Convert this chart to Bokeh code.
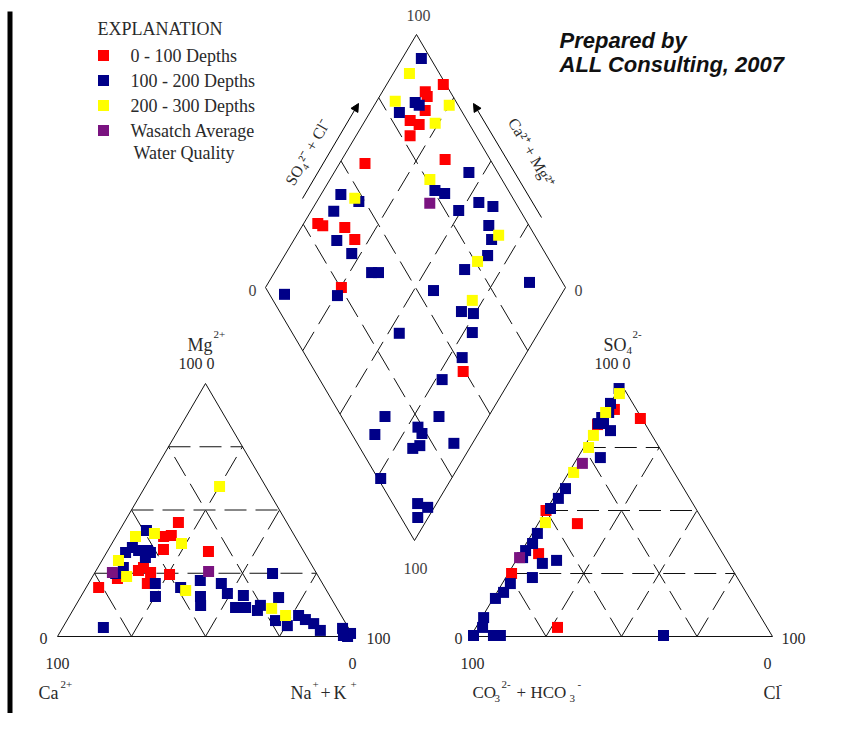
import numpy as np
from bokeh.plotting import figure
from bokeh.models import Range1d, Arrow, NormalHead
from bokeh.core.properties import value
from bokeh.embed import file_html
from bokeh.resources import INLINE

# ---------------- data (percent values) ----------------
group_labels = ["0 - 100 Depths", "100 - 200 Depths", "200 - 300 Depths", "Wasatch Average"]
group_colors = ["#FF0000", "#000088", "#FFFF00", "#7A1380"]

# Cation triangle: Mg2+ (%) and Na+ + K+ (%)  (Ca2+ is the remainder)
cat_mg_0_100 = [45.1, 39.5, 39.9, 34.4, 33.6, 26.1, 27.3, 25.3, 20.9, 24.5, 19.4, 22.9]
cat_nak_0_100 = [18.3, 16.1, 18.5, 18.6, 34.2, 14.3, 15.4, 18.8, 19.9, 25.6, 4.2, 8.8]
cat_mg_100_200 = [41.9, 35.2, 34.0, 34.0, 33.2, 31.2, 33.2, 27.3, 24.9, 20.9, 15.8, 19.4, 22.1, 15.8,
                  12.3, 3.6, 20.9, 17.0, 24.9, 16.2, 11.5, 11.5, 10.3, 12.3, 15.4, 6.3, 4.3, 8.3,
                  6.7, 5.1, 2.4, 3.2, 1.2, 0.0, 0.4]
cat_nak_100_200 = [9.1, 7.7, 10.4, 13.4, 14.8, 14.1, 6.4, 8.6, 7.2, 22.6, 25.2, 31.9, 37.2, 40.4,
                   42.2, 13.7, 44.9, 48.9, 60.2, 54.7, 54.4, 57.8, 62.4, 62.4, 67.0, 70.5, 75.5, 77.3,
                   80.4, 84.0, 87.6, 94.7, 98.4, 98.0, 96.4]
cat_mg_200_300 = [59.3, 39.5, 40.7, 36.8, 30.0, 23.7, 18.2, 11.1, 8.3]
cat_nak_200_300 = [25.1, 6.6, 12.4, 23.5, 5.6, 11.5, 34.2, 66.8, 72.9]
cat_mg_wasatch = [25.3, 25.7]
cat_nak_wasatch = [5.9, 38.2]

# Anion triangle: SO4 2- (%) and Cl- (%)  (CO3 2- + HCO3- is the remainder)
an_so4_0_100 = [86.5, 90.1, 84.1, 50.0, 44.8, 32.9, 25.0, 3.6]
an_cl_0_100 = [13.0, 2.6, 0.0, 0.0, 13.0, 6.1, 1.1, 27.0]
an_so4_100_200 = [98.4, 92.5, 88.9, 86.9, 84.5, 81.7, 84.5, 71.0, 58.7, 54.8, 50.8, 40.9, 36.9, 34.1,
                  31.3, 29.0, 30.2, 23.4, 21.0, 17.5, 15.1, 7.5, 3.6, 0.4, 0.4, 0.4, 0.4]
an_cl_100_200 = [0.0, 0.1, 1.3, 0.0, 1.8, 5.5, 0.0, 7.5, 2.1, 1.7, 1.1, 1.7, 2.1, 1.2,
                 1.6, 9.3, 13.4, 8.8, 2.7, 2.2, 0.7, 0.6, 2.2, 0.8, 7.4, 9.7, 63.7]
an_so4_200_300 = [96.4, 88.9, 79.8, 75.0, 65.1, 45.2]
an_cl_200_300 = [1.1, 0.3, 0.8, 1.6, 1.6, 2.2]
an_so4_wasatch = [68.7, 31.3]
an_cl_wasatch = [2.7, 0.6]

# Diamond: Ca2+ + Mg2+ (%) and SO4 2- + Cl- (%)
dia_camg_0_100 = [81.1, 85.7, 84.1, 82.0, 85.0, 81.2, 82.0, 65.6, 91.5, 95.3, 93.2, 85.5, 79.8, 74.7, 17.4]
dia_so4cl_0_100 = [99.1, 91.7, 91.4, 88.0, 81.0, 83.2, 78.0, 85.0, 57.5, 30.0, 31.2, 38.2, 39.2, 25.3, 49.4]
dia_camg_100_200 = [93.6, 86.9, 85.0, 90.2, 55.1, 62.8, 59.0, 45.8, 40.3, 50.9, 93.4, 86.0, 92.4, 85.6,
                    78.0, 37.9, 34.2, 32.3, 37.2, 67.6, 65.3, 13.0, 74.4, 92.3, 43.4, 29.9, 25.5, 22.1,
                    20.5, 22.8, 46.3, 34.5, 34.3, 16.5, 21.4, 18.8, 17.1, 18.9, 6.2, 23.6, 6.3, 2.2, 3.5]
dia_so4cl_100_200 = [96.9, 86.2, 87.0, 79.0, 90.4, 75.5, 78.2, 87.8, 91.7, 79.5, 43.4, 48.0, 37.7, 33.0,
                     35.4, 86.6, 84.8, 80.3, 69.9, 38.3, 40.6, 89.0, 22.4, 5.0, 55.4, 60.6, 64.2, 60.1,
                     51.8, 40.8, 35.6, 14.5, 7.6, 32.5, 23.4, 23.5, 20.4, 17.5, 32.2, 0.9, 8.3, 10.9, 5.6]
dia_camg_200_300 = [94.6, 93.8, 75.0, 76.1, 66.7, 88.0, 32.7, 34.5, 28.5]
dia_so4cl_200_300 = [90.0, 79.8, 97.0, 88.8, 76.0, 47.3, 88.0, 75.8, 66.4]
dia_camg_wasatch = [62.0]
dia_so4cl_wasatch = [71.3]

grid_levels = [25, 50, 75]

# ---------------- layout / geometry ----------------
W, H = 825, 713
IMG_H = 729.0


def pt(xr, yr):
    return np.array([float(xr), IMG_H - yr])


C_BL, C_BR, C_AP = pt(57, 636), pt(353, 636), pt(205, 383)
A_BL, A_BR, A_AP = pt(470, 636), pt(772, 636), pt(621, 384)
D_B, D_L, D_R = pt(414, 540), pt(265, 287), pt(565, 287)
D_T = D_L + D_R - D_B


def tern(tri, fr, fa):
    BL, BR, AP = tri
    fr = np.asarray(fr, dtype=float) / 100.0
    fa = np.asarray(fa, dtype=float) / 100.0
    x = BL[0] + fr * (BR[0] - BL[0]) + fa * (AP[0] - BL[0])
    y = BL[1] + fr * (BR[1] - BL[1]) + fa * (AP[1] - BL[1])
    return x, y


def dia(camg, so4cl):
    a = np.asarray(camg, dtype=float) / 100.0
    b = np.asarray(so4cl, dtype=float) / 100.0
    x = D_B[0] + a * (D_L[0] - D_B[0]) + b * (D_R[0] - D_B[0])
    y = D_B[1] + a * (D_L[1] - D_B[1]) + b * (D_R[1] - D_B[1])
    return x, y


CAT = (C_BL, C_BR, C_AP)
AN = (A_BL, A_BR, A_AP)

p = figure(width=W, height=H, output_backend="svg", toolbar_location=None,
           x_range=Range1d(0, W), y_range=Range1d(IMG_H - H, IMG_H),
           min_border=0)
p.axis.visible = False
p.grid.visible = False
p.outline_line_color = None
p.background_fill_color = "white"

LINE = "#111111"
DASH = "22 9"

# left black bar
p.quad(left=[7], right=[12], bottom=[0], top=[IMG_H - 11], fill_color="black", line_color=None)

# ---- triangle outlines and grids ----
for tri in (CAT, AN):
    BL, BR, AP = tri
    p.line([BL[0], BR[0], AP[0], BL[0]], [BL[1], BR[1], AP[1], BL[1]], line_color=LINE, line_width=1)
    xs, ys = [], []
    for f in grid_levels:
        x0, y0 = tern(tri, 0, f)
        x1, y1 = tern(tri, 100 - f, f)
        xs.append([float(x0), float(x1)]); ys.append([float(y0), float(y1)])
        x0, y0 = tern(tri, f, 0)
        x1, y1 = tern(tri, f, 100 - f)
        xs.append([float(x0), float(x1)]); ys.append([float(y0), float(y1)])
        x0, y0 = tern(tri, 100 - f, 0)
        x1, y1 = tern(tri, 0, 100 - f)
        xs.append([float(x0), float(x1)]); ys.append([float(y0), float(y1)])
    p.multi_line(xs, ys, line_color=LINE, line_width=1, line_dash=DASH)

# ---- diamond outline and grid ----
p.line([D_B[0], D_L[0], D_T[0], D_R[0], D_B[0]], [D_B[1], D_L[1], D_T[1], D_R[1], D_B[1]],
       line_color=LINE, line_width=1)
xs, ys = [], []
for f in grid_levels:
    x0, y0 = dia(f, 0)
    x1, y1 = dia(f, 100)
    xs.append([float(x0), float(x1)]); ys.append([float(y0), float(y1)])
    x0, y0 = dia(0, f)
    x1, y1 = dia(100, f)
    xs.append([float(x0), float(x1)]); ys.append([float(y0), float(y1)])
p.multi_line(xs, ys, line_color=LINE, line_width=1, line_dash=DASH)

# ---- data points ----
MS = 11
cat_sets = [(cat_mg_0_100, cat_nak_0_100), (cat_mg_100_200, cat_nak_100_200),
            (cat_mg_200_300, cat_nak_200_300), (cat_mg_wasatch, cat_nak_wasatch)]
an_sets = [(an_so4_0_100, an_cl_0_100), (an_so4_100_200, an_cl_100_200),
           (an_so4_200_300, an_cl_200_300), (an_so4_wasatch, an_cl_wasatch)]
dia_sets = [(dia_camg_0_100, dia_so4cl_0_100), (dia_camg_100_200, dia_so4cl_100_200),
            (dia_camg_200_300, dia_so4cl_200_300), (dia_camg_wasatch, dia_so4cl_wasatch)]

for (mg, nak), col in zip(cat_sets, group_colors):
    x, y = tern(CAT, nak, mg)
    p.scatter(x, y, marker="square", size=MS, fill_color=col, line_color=None)
for (so4, cl), col in zip(an_sets, group_colors):
    x, y = tern(AN, cl, so4)
    p.scatter(x, y, marker="square", size=MS, fill_color=col, line_color=None)
for (camg, so4cl), col in zip(dia_sets, group_colors):
    x, y = dia(camg, so4cl)
    p.scatter(x, y, marker="square", size=MS, fill_color=col, line_color=None)

# ---- texts ----
TXT = "#2a2a2a"
SERIF = "Liberation Serif"


def txt(xr, yr, s, size=15, align="left", baseline="middle", font=SERIF, style="normal",
        color=TXT, angle=0.0):
    p.text(x=[xr], y=[IMG_H - yr], text=[s], text_font=value(font),
           text_font_size=f"{size}px", text_align=align, text_baseline=baseline,
           text_color=color, text_font_style=style, angle=angle)


# legend
txt(97, 28, "EXPLANATION", size=18)
leg_y = [55, 80, 105, 130]
p.scatter([103] * 4, [IMG_H - v for v in leg_y], marker="square", size=MS,
          fill_color=group_colors, line_color=None)
for yy, lab in zip(leg_y, group_labels):
    txt(130, yy, lab, size=18)
txt(133, 152, "Water Quality", size=18)

# credit
txt(559, 40, "Prepared by", size=22, font="Liberation Sans", style="bold italic", color="#111111")
txt(559, 64, "ALL Consulting, 2007", size=22, font="Liberation Sans", style="bold italic",
    color="#111111")

# diamond corner labels
GRAY = "#444444"
txt(418, 15, "100", size=16, align="center", color=GRAY)
txt(415, 568, "100", size=16, align="center", color=GRAY)
txt(252, 290, "0", size=16, align="center", color=GRAY)
txt(578, 290, "0", size=16, align="center", color=GRAY)

# diamond side labels with arrows
txt(307, 152, "SO\u2084\u00b2\u207b + Cl\u207b", size=16, align="center", angle=np.pi / 3)
txt(531, 152, "Ca\u00b2\u207a + Mg\u00b2\u207a", size=16, align="center", angle=-np.pi / 3)
p.add_layout(Arrow(end=NormalHead(size=8, fill_color="black", line_color="black"),
                   x_start=302, y_start=IMG_H - 198, x_end=358, y_end=IMG_H - 103,
                   line_color="black", line_width=1))
p.add_layout(Arrow(end=NormalHead(size=8, fill_color="black", line_color="black"),
                   x_start=541, y_start=IMG_H - 217, x_end=473, y_end=IMG_H - 103,
                   line_color="black", line_width=1))

# cation triangle labels
txt(187, 344, "Mg", size=18)
txt(213, 334, "2+", size=11)
txt(198, 363, "100  0", size=16, align="center")
txt(43, 638, "0", size=16, align="center")
txt(378, 638, "100", size=16, align="center")
txt(57, 663, "100", size=16, align="center")
txt(352, 663, "0", size=16, align="center")
txt(38, 692, "Ca", size=18)
txt(60, 684, "2+", size=11)
txt(290, 692, "Na", size=18)
txt(312, 684, "+", size=11)
txt(320, 692, "+", size=18)
txt(333, 692, "K", size=18)
txt(350, 684, "+", size=11)

# anion triangle labels
txt(603, 344, "SO", size=18)
txt(626, 350, "4", size=11)
txt(632, 334, "2-", size=11)
txt(614, 363, "100  0", size=16, align="center")
txt(458, 638, "0", size=16, align="center")
txt(793, 638, "100", size=16, align="center")
txt(472, 663, "100", size=16, align="center")
txt(767, 663, "0", size=16, align="center")
txt(472, 692, "CO", size=17)
txt(494, 698, "3", size=11)
txt(501, 684, "2-", size=11)
txt(516, 692, "+", size=17)
txt(530, 692, "HCO", size=17)
txt(569, 698, "3", size=11)
txt(577, 684, "-", size=11)
txt(763, 692, "Cl", size=18)
txt(778, 684, "-", size=11)

open("out.html", "w").write(file_html(p, INLINE))
